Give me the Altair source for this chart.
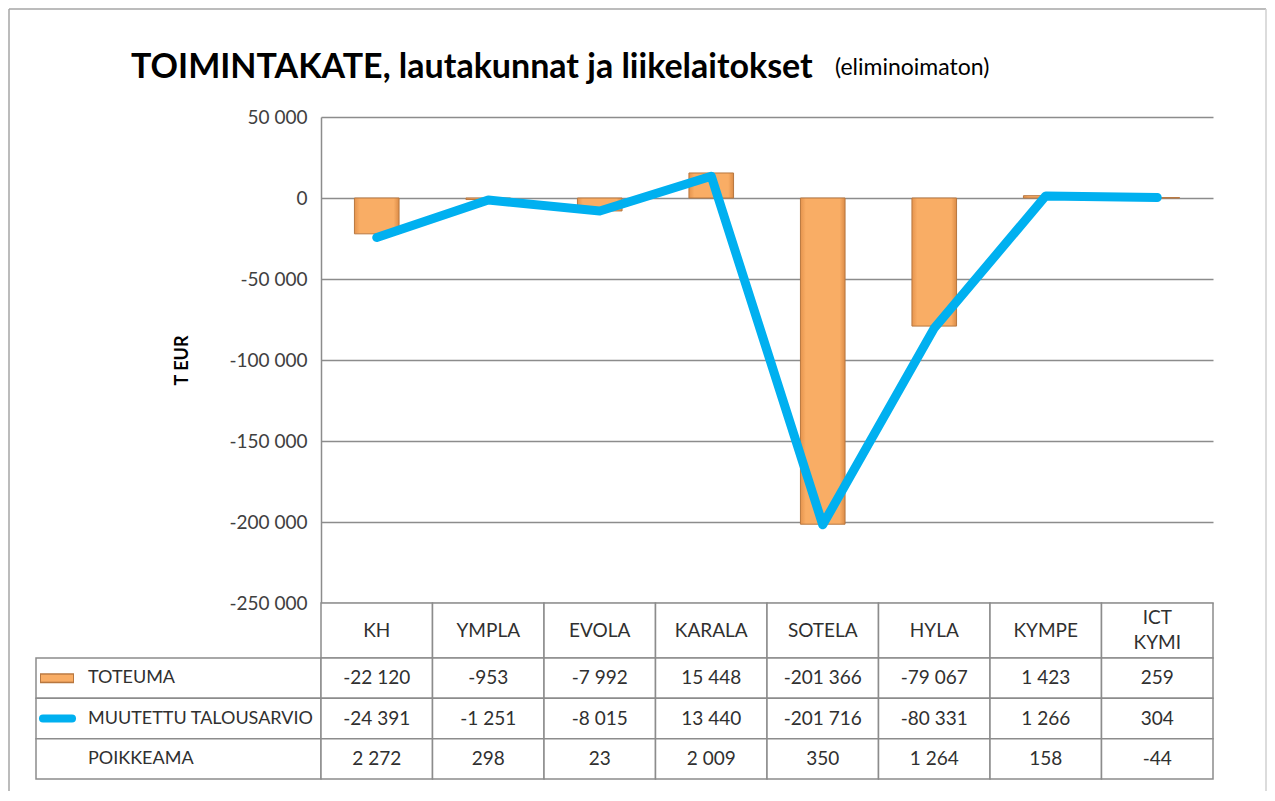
import altair as alt
import pandas as pd

categories = ["KH", "YMPLA", "EVOLA", "KARALA", "SOTELA", "HYLA", "KYMPE", "ICT KYMI"]
toteuma = [-22120, -953, -7992, 15448, -201366, -79067, 1423, 259]
muutettu = [-24391, -1251, -8015, 13440, -201716, -80331, 1266, 304]
poikkeama = [2272, 298, 23, 2009, 350, 1264, 158, -44]
row_names = ["TOTEUMA", "MUUTETTU TALOUSARVIO", "POIKKEAMA"]
y_ticks = [50000, 0, -50000, -100000, -150000, -200000, -250000]
title_main = "TOIMINTAKATE, lautakunnat ja liikelaitokset"
title_sub = "(eliminoimaton)"
y_title = "T EUR"

W, H, HEAD, BODY = 892, 486, 55, 121
FONT = "Lato"
GRID = "#8c8c8c"
ORANGE = "#F9AD65"
ORANGE_EDGE = "#B8773F"
BLUE = "#00B0F0"
TXT = "#303030"
FS = 19

df = pd.DataFrame({"cat": categories, "toteuma": toteuma, "muutettu": muutettu})
long = pd.DataFrame(
    [{"cat": c, "row": r, "val": v}
     for r, vals in zip(row_names, [toteuma, muutettu, poikkeama])
     for c, v in zip(categories, vals)]
)
rdf = pd.DataFrame({"row": row_names})

xs = alt.Scale(domain=categories, paddingInner=0, paddingOuter=0)
xenc = alt.X("cat:N", scale=xs, axis=None)

yaxis = alt.Axis(
    values=y_ticks, format=",d", grid=True, gridColor=GRID, gridWidth=1.5,
    domainColor=GRID, domainWidth=1.5, ticks=False, labelPadding=14,
    labelFont=FONT, labelFontSize=FS, labelColor="#404040",
    title=y_title, titleFont=FONT, titleFontSize=18, titleFontWeight="bold",
    titleColor="black", titlePadding=37,
)
yscale = alt.Scale(domain=[-250000, 50000], nice=False)

one = pd.DataFrame({"a": [0]})
FR = "#a6a6a6"
fr_top = alt.Chart(one).mark_rule(color=FR, strokeWidth=1.5).encode(
    x=alt.value(-312), x2=alt.value(945), y=alt.value(-108))
fr_left = alt.Chart(one).mark_rule(color=FR, strokeWidth=1.5).encode(
    x=alt.value(-312), y=alt.value(-108), y2=alt.value(674))
fr_right = alt.Chart(one).mark_rule(color="#d0d0d0", strokeWidth=1.5).encode(
    x=alt.value(945), y=alt.value(-108), y2=alt.value(674))

bar_fill = alt.LinearGradient(
    gradient="linear", x1=0, x2=1, y1=0, y2=0,
    stops=[alt.GradientStop(offset=0, color="#E5944E"),
           alt.GradientStop(offset=0.12, color=ORANGE),
           alt.GradientStop(offset=0.88, color=ORANGE),
           alt.GradientStop(offset=1, color="#DC8C47")],
)
bars = alt.Chart(df).mark_bar(
    width=alt.RelativeBandSize(0.4), fill=bar_fill, stroke=ORANGE_EDGE, strokeWidth=1
).encode(x=xenc, y=alt.Y("toteuma:Q", scale=yscale, axis=yaxis))

line = alt.Chart(df).mark_line(
    color=BLUE, strokeWidth=9, strokeCap="round", strokeJoin="round"
).encode(x=xenc, y=alt.Y("muutettu:Q", scale=yscale))

title = alt.Chart(pd.DataFrame({"t": [title_main]})).mark_text(
    align="left", baseline="alphabetic", font=FONT, fontSize=34, fontWeight="bold", color="black"
).encode(x=alt.value(-190), y=alt.value(-39), text="t:N")

sub = alt.Chart(pd.DataFrame({"t": [title_sub]})).mark_text(
    align="left", baseline="alphabetic", font=FONT, fontSize=23, color="black"
).encode(x=alt.value(514), y=alt.value(-42), text="t:N")

top = alt.layer(fr_top, fr_left, fr_right, bars, line, title, sub).properties(width=W, height=H)

hdr = alt.Chart(df).mark_rect(fill="white", stroke=GRID, strokeWidth=1.5).encode(
    x=xenc, y=alt.value(0), y2=alt.value(HEAD)
)
hdr_t1 = alt.Chart(df).transform_filter("indexof(datum.cat, ' ') < 0").mark_text(
    font=FONT, fontSize=FS, color=TXT
).encode(x=xenc, y=alt.value(HEAD / 2), text="cat:N")
hdr_t2 = alt.Chart(df).transform_filter("indexof(datum.cat, ' ') >= 0").mark_text(
    font=FONT, fontSize=FS, color=TXT, lineBreak=" ", lineHeight=25
).encode(x=xenc, y=alt.value(HEAD / 2 - 12.5), text="cat:N")
header = alt.layer(hdr, hdr_t1, hdr_t2).properties(width=W, height=HEAD)

yenc = alt.Y("row:N", scale=alt.Scale(domain=row_names, paddingInner=0, paddingOuter=0), axis=None)
cells = alt.Chart(long).mark_rect(fill="white", stroke=GRID, strokeWidth=1.5).encode(x=xenc, y=yenc)
vals = alt.Chart(long).mark_text(font=FONT, fontSize=FS, color=TXT).encode(
    x=xenc, y=yenc, text=alt.Text("val:Q", format=",d")
)
lcells = alt.Chart(rdf).mark_rect(fill="white", stroke=GRID, strokeWidth=1.5).encode(
    x=alt.value(-285), x2=alt.value(0), y=yenc
)
ltext = alt.Chart(rdf).mark_text(align="left", font=FONT, fontSize=18, color=TXT).encode(
    x=alt.value(-233), y=yenc, text="row:N"
)
sym_edge = alt.Chart(rdf).transform_filter(alt.datum.row == row_names[0]).mark_rule(
    color=ORANGE_EDGE, strokeWidth=10, strokeCap="butt"
).encode(x=alt.value(-281), x2=alt.value(-247), y=yenc)
sym_bar = alt.Chart(rdf).transform_filter(alt.datum.row == row_names[0]).mark_rule(
    color=ORANGE, strokeWidth=7, strokeCap="butt"
).encode(x=alt.value(-280), x2=alt.value(-248), y=yenc)
sym_line = alt.Chart(rdf).transform_filter(alt.datum.row == row_names[1]).mark_rule(
    color=BLUE, strokeWidth=8, strokeCap="round"
).encode(x=alt.value(-278), x2=alt.value(-249), y=yenc)

body = alt.layer(lcells, cells, ltext, vals, sym_edge, sym_bar, sym_line).properties(width=W, height=BODY)

chart = alt.vconcat(top, header, body, spacing=0, bounds="flush").properties(padding=0)
chart = chart.configure(
    locale={"number": {"decimal": ",", "thousands": " ", "grouping": [3],
                       "currency": ["", " €"], "minus": "-"}}
).configure_view(stroke=None)

chart.save("out.html", embed_options={"renderer": "svg", "actions": False})
